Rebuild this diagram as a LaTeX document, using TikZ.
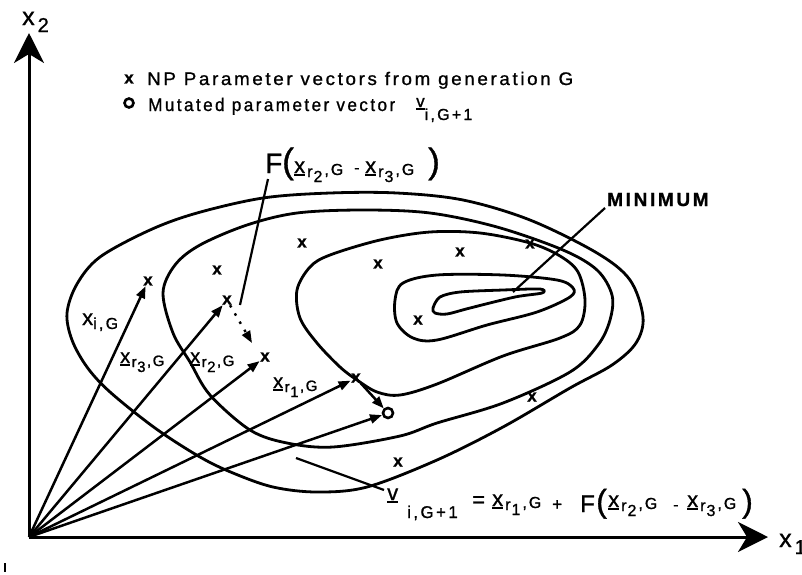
\documentclass[tikz,border=0pt]{standalone}
\usepackage{graphicx}
\usepackage{fontspec}
\setmainfont{Liberation Sans}[LetterSpace=14, FakeBold=1]
\usetikzlibrary{arrows.meta}
\newcommand{\fs}[1]{\fontsize{#1}{#1}\selectfont}
\newcommand{\ulx}[1]{\setbox0\hbox{#1}\rlap{\rule[-3pt]{\wd0}{1.6pt}}\box0}
% small version for vector labels
\newcommand{\xrs}[1]{{\fs{20}\ulx{x}}\hspace{1.5pt}{\fs{15}\raisebox{-4pt}{r}\hspace{0.5pt}\raisebox{-9pt}{#1}\hspace{1.5pt}\raisebox{-3pt}{,\hspace{1.5pt}G}}}
% larger version for formulas
\newcommand{\xr}[1]{{\fs{22}\ulx{x}}\hspace{2pt}{\fs{16}\raisebox{-4pt}{r}\hspace{1pt}\raisebox{-9pt}{#1}\hspace{2pt}\raisebox{-2pt}{,\hspace{2pt}G}}}
\tikzset{
  contour/.style={line width=2.8pt, line join=round},
  vec/.style={line width=2.5pt, -{Triangle[length=12pt,width=9pt]}},
  lead/.style={line width=2.2pt},
  axis/.style={line width=3pt, -{Stealth[length=30pt,width=30pt,inset=9pt]}},
  xmark/.style={font=\fs{17}\bfseries, inner sep=0.5pt},
  txt/.style={anchor=base west, inner sep=0},
  ring/.style={circle, draw, line width=2.6pt, minimum size=10pt, inner sep=0}
}
\begin{document}
\begin{tikzpicture}[x=1pt,y=-1pt]
\useasboundingbox (0,0) rectangle (802,574);
% contours
\draw[contour] plot[smooth cycle, tension=0.55] coordinates {(67,313) (77,284) (100,257) (150,230) (197,213) (263,198) (330,193) (397,193) (463,200) (530,220) (597,253) (630,280) (643,317) (636,343) (612,365) (570,388) (503,427) (437,460) (367,487) (317,492) (273,487) (233,473) (200,457) (155,428) (110,392) (87,367) (72,340)};
\draw[contour] plot[smooth cycle, tension=0.55] coordinates {(163,293) (175,265) (200,245) (247,225) (297,213) (363,210) (430,213) (497,227) (563,250) (597,270) (612,295) (610,320) (598,345) (570,372) (503,403) (437,423) (400,436) (333,447) (287,443) (250,430) (210,395) (190,362) (173,333)};
\draw[contour] plot[smooth cycle, tension=0.55] coordinates {(297,290) (310,267) (330,255) (380,240) (430,232) (480,233) (530,243) (560,256) (578,272) (585,300) (580,325) (560,338) (503,356) (437,384) (400,395) (377,392) (357,380) (340,367) (317,343) (300,318)};
\draw[contour] plot[smooth cycle, tension=0.55] coordinates {(395,300) (403,283) (437,275) (503,275) (557,280) (573,288) (570,297) (537,312) (487,325) (437,340) (413,338) (397,323)};
\draw[contour] plot[smooth cycle, tension=0.5] coordinates {(433,308) (440,297) (460,292) (503,290) (540,289) (542,293) (515,297) (470,308) (447,314) (435,313)};
% axes
\coordinate (O) at (29,537);
\coordinate (ytop) at (29,33);
\coordinate (xend) at (768,537);
\draw[axis] (O) -- (ytop);
\draw[axis] (O) -- (xend);
\node[txt] (x2) at (22,25) {{\fs{25}x}\hspace{3pt}\raisebox{-7pt}{\fs{20}2}};
\node[txt] (x1) at (779,547) {{\fs{25}x}\hspace{3pt}\raisebox{-7pt}{\fs{20}1}};
\coordinate (tk1) at (5,563);
\coordinate (tk2) at (5,572);
\draw[line width=1.5pt] (tk1) -- (tk2);
% marks
\node[xmark] (m1) at (217,270) {x};
\node[xmark] (m2) at (302,243) {x};
\node[xmark] (m3) at (378,264) {x};
\node[xmark] (m4) at (460,252) {x};
\node[xmark] (m5) at (530,244) {x};
\node[xmark] (m6) at (418,320) {x};
\node[xmark] (m7) at (532,397) {x};
\node[xmark] (m8) at (398,462) {x};
\node[xmark] (tI) at (148,281) {x};
\node[xmark] (tR3) at (227,300) {x};
\node[xmark] (tR2) at (265,357) {x};
\node[xmark] (tR1) at (356,378) {x};
\node[ring] (mut) at (388,413) {};
% vectors
\draw[vec] (O) -- (tI);
\draw[vec] (O) -- (tR3);
\draw[vec] (O) -- (tR2);
\draw[vec] (O) -- (tR1);
\draw[vec] (O) -- (mut);
\draw[vec] (tR1) -- (mut);
\coordinate (dE) at (252,343);
\draw[line width=2.4pt, dash pattern=on 2.5pt off 7pt, -{Triangle[length=12pt,width=9pt]}] (tR3) -- (dE);
% vector labels
\node[txt] (li) at (82,325) {{\fs{22}x}\raisebox{-4pt}{\fs{16}i,G}};
\node[txt] (l3) at (120,363) {\xrs{3}};
\node[txt] (l2) at (190,363) {\xrs{2}};
\node[txt] (l1) at (273,388) {\xrs{1}};
% legend
\node[xmark] (lx) at (129,79) {x};
\node[txt] (leg1) at (147,85) {\resizebox{426pt}{13.2pt}{\fs{18}NP Parameter vectors from generation G}};
\node[ring, minimum size=9pt] (lo) at (129,103) {};
\node[txt] (leg2) at (148,111) {\resizebox{247pt}{13.2pt}{\fs{18}Mutated parameter vector}};
\node[txt] (leg3) at (416,107) {{\fs{17}\ulx{v}}{\fs{16}\raisebox{-13pt}{i,G+1}}};
% F label (top)
\node[txt] (tF) at (265,173) {\fs{28}F};
\node[txt] (tpl) at (282,173) {\fs{35}(};
\node[txt] (tx2) at (294,173) {\xr{2}};
\node[txt] (tmi) at (354,173) {\fs{16}-};
\node[txt] (tx3) at (365,173) {\xr{3}};
\node[txt] (tpr) at (428,173) {\fs{35})};
\coordinate (fA) at (268,179);
\coordinate (fB) at (240,305);
\draw[lead] (fA) -- (fB);
% minimum
\node[txt] (minl) at (607,206) {\fs{19}\bfseries MINIMUM};
\coordinate (mA) at (605,208);
\coordinate (mB) at (513,292);
\draw[lead] (mA) -- (mB);
% bottom formula
\node[txt] (bv) at (387,500) {\fs{22}\ulx{v}};
\node[txt] (bsub) at (407,518) {\fs{17}i,G+1};
\node[txt] (beq) at (472,507) {\fs{22}=};
\node[txt] (bx1) at (492,506) {\xr{1}};
\node[txt] (bplus) at (552,510) {\fs{17}+};
\node[txt] (bF) at (580,512) {\fs{24}F};
\node[txt] (bpl) at (596,512) {\fs{32}(};
\node[txt] (bx2) at (608,507) {\xr{2}};
\node[txt] (bmi) at (673,510) {\fs{16}-};
\node[txt] (bx3) at (687,507) {\xr{3}};
\node[txt] (bpr) at (742,512) {\fs{32})};
\coordinate (vA) at (296,458);
\coordinate (vB) at (384,490);
\draw[lead] (vA) -- (vB);
\end{tikzpicture}
\end{document}
